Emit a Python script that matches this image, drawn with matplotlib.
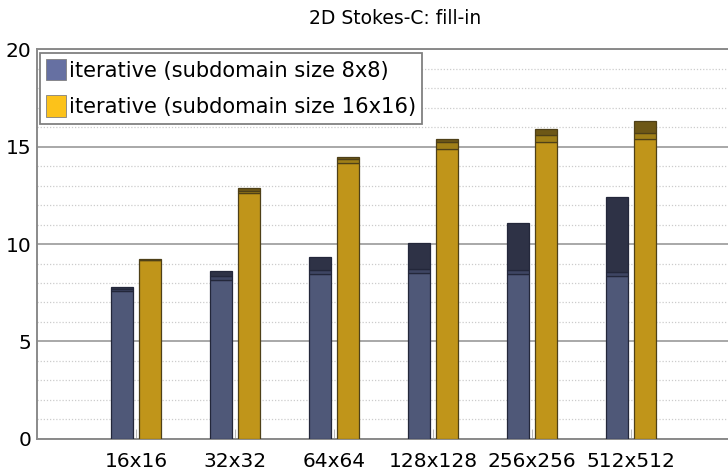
import matplotlib
matplotlib.use("Agg")
import matplotlib.pyplot as plt
from matplotlib.patches import Patch

# problem sizes on the x axis
sizes = ["16x16", "32x32", "64x64", "128x128", "256x256", "512x512"]

# fill-in per size, stacked in three parts (cumulative heights)
sub8_base = [7.60, 8.15, 8.46, 8.50, 8.44, 8.36]
sub8_mid = [7.68, 8.36, 8.66, 8.72, 8.65, 8.56]
sub8_total = [7.81, 8.61, 9.32, 10.04, 11.06, 12.40]

sub16_base = [9.18, 12.64, 14.14, 14.89, 15.25, 15.38]
sub16_mid = [9.20, 12.74, 14.35, 15.24, 15.58, 15.69]
sub16_total = [9.21, 12.86, 14.47, 15.38, 15.92, 16.30]

labels = ["iterative (subdomain size 8x8)", "iterative (subdomain size 16x16)"]


def stacked(ax, xs, base, mid, total, colors, edge):
    w = 0.225
    mid_h = [m - b for b, m in zip(base, mid)]
    top_h = [t - m for m, t in zip(mid, total)]
    ax.bar(xs, base, width=w, color=colors[0], edgecolor=edge, linewidth=0.9, zorder=3)
    ax.bar(xs, mid_h, bottom=base, width=w, color=colors[1], edgecolor=edge, linewidth=0.9, zorder=3)
    ax.bar(xs, top_h, bottom=mid, width=w, color=colors[2], edgecolor=edge, linewidth=0.9, zorder=3)


def main():
    fig = plt.figure(figsize=(7.28, 4.71), dpi=100)
    ax = fig.add_axes([37 / 728, 1 - 438.7 / 471, 691 / 728, (438.7 - 49.4) / 471])

    pos = list(range(1, len(sizes) + 1))
    stacked(ax, [p - 0.14 for p in pos], sub8_base, sub8_mid, sub8_total,
            ["#4f5878", "#3e4563", "#2e3246"], "#23273a")
    stacked(ax, [p + 0.145 for p in pos], sub16_base, sub16_mid, sub16_total,
            ["#c0951a", "#a07f17", "#6d5716"], "#4e4018")

    ax.set_xlim(0, 6.98)
    ax.set_ylim(0, 20)
    ax.set_xticks(pos)
    ax.set_xticklabels(sizes)
    ax.set_yticks([0, 5, 10, 15, 20])
    ax.set_yticks(range(0, 21), minor=True)
    ax.grid(which="major", axis="y", color="#a8a8a8", linewidth=1.4, zorder=1)
    ax.grid(which="minor", axis="y", color="#cccccc", linewidth=0.9, linestyle=(0, (1, 1.5)), zorder=1)
    ax.tick_params(axis="y", which="both", length=0, labelsize=14.5, pad=4)
    ax.tick_params(axis="x", direction="in", length=7, color="#b8b8b8", labelsize=14.5, pad=9.5)

    for side in ["left", "bottom", "top"]:
        ax.spines[side].set_color("#8a8a8a")
        ax.spines[side].set_linewidth(1.4)
    ax.spines["right"].set_visible(False)

    handles = [Patch(facecolor="#6670a2", edgecolor="#808080", linewidth=0.6),
               Patch(facecolor="#fcc21a", edgecolor="#808080", linewidth=0.6)]
    leg = ax.legend(handles, labels, loc="upper left",
                    bbox_to_anchor=(3 / 691, (438.7 - 52.7) / (438.7 - 49.4)),
                    fontsize=15.1, fancybox=False, framealpha=1, edgecolor="#808080",
                    handlelength=0.95, handleheight=1.2, handletextpad=0.12,
                    borderpad=0.3, borderaxespad=0, labelspacing=0.7)
    leg.get_frame().set_linewidth(1.3)
    leg.set_zorder(5)

    fig.text(395 / 728, 1 - 18 / 471, "2D Stokes-C: fill-in", ha="center", va="center", fontsize=13.5)

    fig.savefig("out.png", dpi=100)


if __name__ == "__main__":
    main()
